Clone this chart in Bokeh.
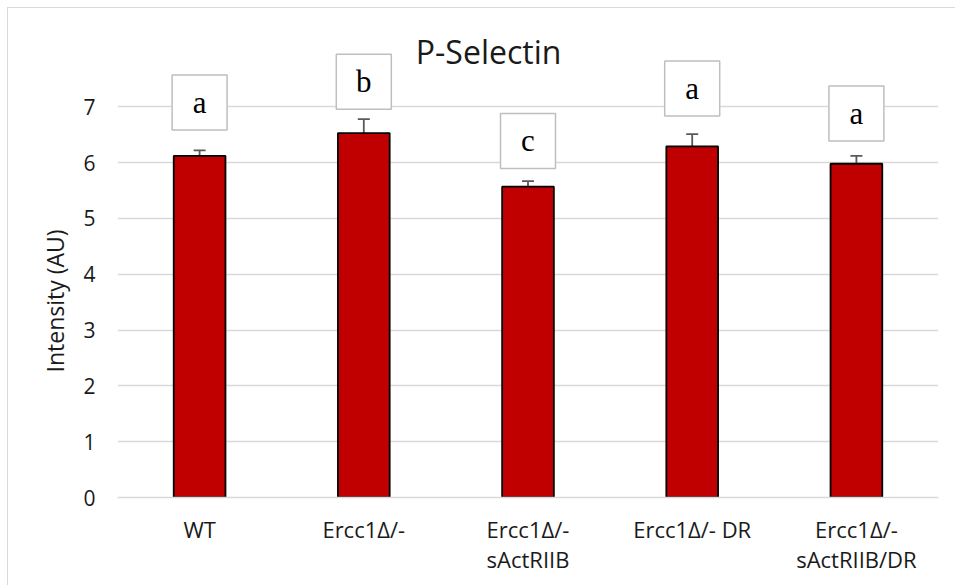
from bokeh.plotting import figure
from bokeh.models import (ColumnDataSource, FactorRange, Range1d, Whisker, TeeHead,
                          Label, FixedTicker, Title)
from bokeh.core.properties import value
from bokeh.embed import file_html
from bokeh.resources import INLINE

# ---- data ----
categories = ["WT", "Ercc1Δ/-", "Ercc1Δ/-\nsActRIIB", "Ercc1Δ/- DR", "Ercc1Δ/-\nsActRIIB/DR"]
intensity = [6.12, 6.53, 5.57, 6.29, 5.98]
error = [0.10, 0.25, 0.10, 0.22, 0.14]
letters = ["a", "b", "c", "a", "a"]
letter_y = [7.08, 7.45, 6.39, 7.33, 6.88]
y_ticks = [0, 1, 2, 3, 4, 5, 6, 7]
title_text = "P-Selectin"
y_label = "Intensity (AU)"

upper = [v + e for v, e in zip(intensity, error)]
src = ColumnDataSource(dict(cat=categories, val=intensity, upper=upper,
                            letter=letters, ly=letter_y))

p = figure(x_range=FactorRange(*categories), y_range=Range1d(0, 8.368),
           width=948, height=578, output_backend="svg", toolbar_location=None,
           min_border_left=109, min_border_right=18, min_border_top=22,
           min_border_bottom=89)
p.styles = {"margin-left": "7px", "margin-top": "7px",
            "border-left": "1px solid #d9d9d9", "border-top": "1px solid #d9d9d9"}
p.outline_line_color = None
p.background_fill_color = "white"
p.border_fill_color = "white"

# grid
p.xgrid.grid_line_color = None
p.ygrid.ticker = FixedTicker(ticks=y_ticks)
p.ygrid.grid_line_color = "#d9d9d9"
p.ygrid.grid_line_width = 1.3

# axes
p.yaxis.ticker = FixedTicker(ticks=y_ticks)
p.yaxis.axis_line_color = None
p.yaxis.major_tick_line_color = None
p.yaxis.minor_tick_line_color = None
p.yaxis.major_label_standoff = 16
p.yaxis.major_label_text_font = "Open Sans"
p.yaxis.major_label_text_font_size = "21px"
p.yaxis.major_label_text_color = "#1a1a1a"

p.xaxis.axis_line_color = "#d9d9d9"
p.xaxis.axis_line_width = 1.3
p.xaxis.major_tick_line_color = None
p.xaxis.minor_tick_line_color = None
p.xaxis.major_label_standoff = 10
p.xaxis.major_label_text_font = "Open Sans"
p.xaxis.major_label_text_font_size = "22px"
p.xaxis.major_label_text_line_height = 1.0
p.xaxis.major_label_text_color = "#1a1a1a"

# y-axis title, placed along the 0..7 span
p.add_layout(Title(text=y_label, align="left", offset=125, standoff=20,
                   text_font="Open Sans", text_font_size="23px",
                   text_font_style="normal", text_color="#1a1a1a"), "left")

# bars
p.vbar(x="cat", top="val", bottom=0, width=0.315, source=src,
       fill_color="#c00000", line_color="black", line_width=1.8)

# error bars (upper only)
w = Whisker(base="cat", lower="val", upper="upper", source=src, dimension="height",
            line_color="#595959", line_width=1.8,
            upper_head=TeeHead(size=12, line_color="#595959", line_width=1.8),
            lower_head=None)
p.add_layout(w)

# letter boxes
p.rect(x="cat", y="ly", width=55, height=55, width_units="screen", height_units="screen",
       source=src, fill_color="white", line_color="#bfbfbf", line_width=1.5)
p.text(x="cat", y="ly", text="letter", source=src, text_align="center",
       text_baseline="middle", text_font=value("Liberation Serif"),
       text_font_size="31px", text_color="black")

# chart title
p.add_layout(Label(x=2.26, y=7.99, text=title_text, text_align="center",
                   text_baseline="alphabetic", text_font="Open Sans",
                   text_font_size="32px", text_color="#1a1a1a"))

open("out.html", "w").write(file_html(p, INLINE))
